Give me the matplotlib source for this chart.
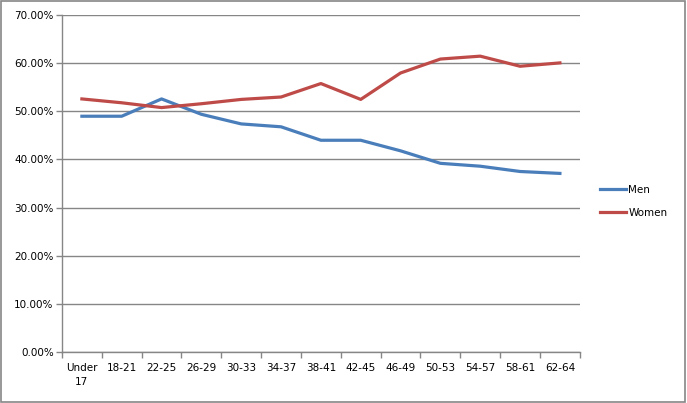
import numpy as np
import matplotlib.pyplot as plt
from matplotlib.patches import Rectangle
from matplotlib.ticker import PercentFormatter

# age groups and share of men / women (percent)
age_groups = ["Under\n17", "18-21", "22-25", "26-29", "30-33", "34-37", "38-41",
              "42-45", "46-49", "50-53", "54-57", "58-61", "62-64"]
men = [49.0, 49.0, 52.6, 49.4, 47.4, 46.8, 44.0, 44.0, 41.8, 39.2, 38.6, 37.5, 37.1]
women = [52.6, 51.8, 50.8, 51.6, 52.5, 53.0, 55.8, 52.5, 58.0, 60.9, 61.5, 59.4, 60.1]

grey = "#868686"

fig = plt.figure(figsize=(6.87, 4.03), dpi=100)
fig.patches.append(Rectangle((0.001, 0.003), 0.996, 0.994, transform=fig.transFigure,
                             fill=False, edgecolor=grey, linewidth=1.2))
ax = fig.add_axes([0.0902, 0.1273, 0.7538, 0.8347])

x = np.arange(len(age_groups))
l1, = ax.plot(x, men, color="#4A7EBB", lw=2.3, label="Men")
l2, = ax.plot(x, women, color="#BE4B48", lw=2.3, label="Women")

ax.set_xlim(-0.5, len(age_groups) - 0.5)
ax.set_ylim(0, 70)
ax.set_yticks(np.arange(0, 71, 10))
ax.yaxis.set_major_formatter(PercentFormatter(decimals=2))
ax.set_xticks(x)
ax.set_xticklabels(age_groups)
ax.set_xticks(np.arange(-0.5, len(age_groups), 1.0), minor=True)
ax.tick_params(axis="x", which="major", length=0, pad=8, labelsize=7.5)
ax.tick_params(axis="x", which="minor", length=4, color=grey, width=1)
ax.tick_params(axis="y", length=4, color=grey, width=1, labelsize=7.5, pad=2)
for lab in ax.get_xticklabels():
    lab.set_linespacing(1.5)

ax.grid(axis="y", color=grey, lw=1)
ax.set_axisbelow(True)
for side in ["top", "right"]:
    ax.spines[side].set_visible(False)
for side in ["left", "bottom"]:
    ax.spines[side].set_color(grey)
    ax.spines[side].set_linewidth(1)

fig.legend(handles=[l1, l2], loc="upper left", bbox_to_anchor=(0.866, 0.555),
           frameon=False, fontsize=7.5, handlelength=2.5, handletextpad=0.2,
           labelspacing=1.3, borderpad=0)

fig.savefig("out.png", dpi=100)
